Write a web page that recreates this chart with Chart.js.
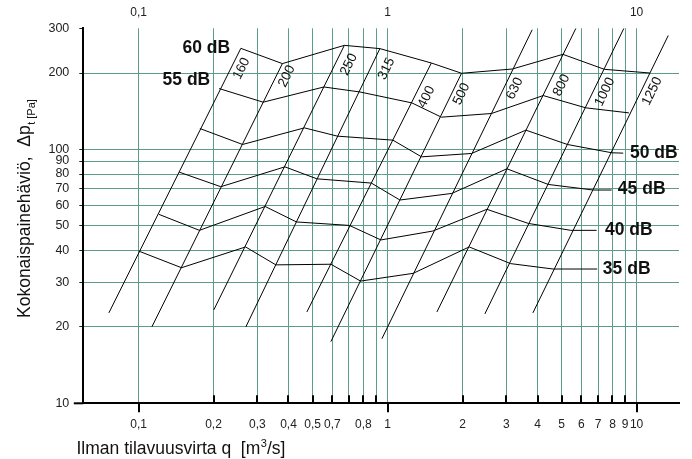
<!DOCTYPE html>
<html>
<head>
<meta charset="utf-8">
<script src="https://cdn.jsdelivr.net/npm/chart.js@4"></script>
<style>
html,body{margin:0;padding:0;background:#fff;}
#wrap{width:692px;height:459px;position:relative;}
</style>
</head>
<body>
<div id="wrap"><canvas id="c"></canvas></div>
<script>
// ---- duct size lines (start / end points) ----
const sizeLabels = ['160','200','250','315','400','500','630','800','1000','1250'];
const ductQStart = [0.0760,0.1131,0.2006,0.2697,0.4742,0.592,0.9487,1.578,2.459,3.833];
const ductPStart = [22.7,20.0,23.35,20.0,22.9,17.5,17.96,22.9,22.5,22.7];
const ductQEnd   = [0.2575,0.3781,0.6706,0.9313,1.499,1.982,3.808,5.705,8.892,13.40];
const ductPEnd   = [250.1,217.8,257.0,249.5,219.0,199.5,296,300,300,281];

// ---- sound level curves (q [m3/s], dp [Pa]) ----
const levelLabels = ['35 dB','40 dB','45 dB','50 dB','55 dB','60 dB'];
const q35 = [0.1,0.1488,0.2690,0.3559,0.592,0.7791,1.267,2.127,3.119,4.624,6.947];
const p35 = [39.8,34.2,41.3,35.1,35.3,30.3,32.5,41.3,35.5,33.8,33.8];
const q40 = [0.1207,0.1756,0.3224,0.4306,0.7024,0.9400,1.520,2.505,3.678,5.446,6.909];
const p40 = [55.5,48.0,59.6,51.8,50.2,44.0,47.7,58.1,51.1,48.0,48.0];
const q45 = [0.1456,0.2140,0.3869,0.5201,0.8607,1.1205,1.812,3.014,4.416,6.694,7.937];
const p45 = [81.4,71.3,85.4,76.6,73.7,63.2,67.1,83.9,72.8,69.2,69.2];
const q50 = [0.1763,0.2616,0.4634,0.6286,1.050,1.369,2.174,3.593,5.273,7.959,8.836];
const p50 = [120.9,104.6,121.6,112.8,108.8,93.5,96.4,119.1,104.6,97.0,96.7];
const q55 = [0.2107,0.3165,0.5549,0.7740,1.252,1.645,2.612,4.216,6.257,9.314];
const p55 = [173.7,153.5,176.2,168.4,152.5,134.0,138.5,163.0,145.8,139.3];
const q60 = [0.2575,0.3781,0.6706,0.9313,1.499,1.982,3.171,5.058,7.425,11.31];
const p60 = [250.1,217.8,257.0,249.5,219.0,199.5,207.4,236.9,206.8,200.0];

// ---- axis ticks ----
const xTickValues = [0.1,0.2,0.3,0.4,0.5,0.6,0.7,0.8,0.9,1,2,3,4,5,6,7,8,9,10];
const xTickLabels = ['0,1','0,2','0,3','0,4','0,5','0,7','','0,8','','1','2','3','4','5','6','7','8','9','10'];
const xMajorValues = [0.1,1,10];
const xTopLabels = ['0,1','1','10'];
const yTickValues = [10,20,30,40,50,60,70,80,90,100,200,300];
const yTickLabels = ['10','20','30','40','50','60','70','80','90','100','200','300'];

// ---- layout / style (not data) ----
const FONT = '"Liberation Sans", Arial, Helvetica, sans-serif';
const GRID = '#5b9c8a';
const LINE = '#000';
const sizeLabelAt = [[0.2593,208.2],[0.394,194.1],[0.6995,215.9],[0.991,207.8],[1.434,160.9],
                     [1.982,165.4],[3.245,173.7],[4.998,178.9],[7.46,168.4],[11.55,169.5]];
const levelLabelAt = [[7.32,33.8],[7.46,48.2],[8.41,69.5],[9.40,96.7],[0.1249,188.1],[0.1502,249.7]];

const levelQ = [q35,q40,q45,q50,q55,q60];
const levelP = [p35,p40,p45,p50,p55,p60];

const datasets = [];
sizeLabels.forEach((s,i) => {
  datasets.push({
    label: 'Ø ' + s,
    data: [{x: ductQStart[i], y: ductPStart[i]}, {x: ductQEnd[i], y: ductPEnd[i]}],
    showLine: true, borderColor: LINE, borderWidth: 1, pointRadius: 0, fill: false
  });
});
levelLabels.forEach((s,i) => {
  datasets.push({
    label: s,
    data: levelQ[i].map((q,j) => ({x: q, y: levelP[i][j]})),
    showLine: true, borderColor: LINE, borderWidth: 1, pointRadius: 0, fill: false,
    borderJoinStyle: 'miter'
  });
});

const decor = {
  id: 'decor',
  afterDatasetsDraw(chart) {
    const {ctx, chartArea: a} = chart;
    const x = chart.scales.x, y = chart.scales.y;
    ctx.save();
    // bottom axis extension to the left
    ctx.strokeStyle = '#000'; ctx.lineWidth = 2;
    ctx.beginPath(); ctx.moveTo(a.left - 9.5, a.bottom); ctx.lineTo(a.left, a.bottom); ctx.stroke();
    // x tick marks: majors outward, minors inward
    xTickValues.forEach(v => {
      const px = Math.round(x.getPixelForValue(v));
      ctx.beginPath();
      if (xMajorValues.includes(v)) { ctx.moveTo(px, a.bottom); ctx.lineTo(px, a.bottom + 9); }
      else { ctx.moveTo(px, a.bottom - 8); ctx.lineTo(px, a.bottom); }
      ctx.stroke();
    });
    // duct size labels, rotated along their lines
    ctx.fillStyle = '#111';
    ctx.font = '13.5px ' + FONT;
    ctx.textAlign = 'center'; ctx.textBaseline = 'middle';
    sizeLabels.forEach((s,i) => {
      const x0 = x.getPixelForValue(ductQStart[i]), y0 = y.getPixelForValue(ductPStart[i]);
      const x1 = x.getPixelForValue(ductQEnd[i]), y1 = y.getPixelForValue(ductPEnd[i]);
      const ang = Math.atan2(y1 - y0, x1 - x0);
      ctx.save();
      ctx.translate(x.getPixelForValue(sizeLabelAt[i][0]), y.getPixelForValue(sizeLabelAt[i][1]));
      ctx.rotate(ang);
      ctx.fillText(s, 0, 0);
      ctx.restore();
    });
    // level labels
    ctx.font = 'bold 17.5px ' + FONT;
    ctx.textAlign = 'left'; ctx.textBaseline = 'middle';
    levelLabels.forEach((s,i) => {
      ctx.fillText(s, x.getPixelForValue(levelLabelAt[i][0]), y.getPixelForValue(levelLabelAt[i][1]));
    });
    // x title
    ctx.fillStyle = '#111';
    ctx.textBaseline = 'alphabetic';
    let tx = 76.5, ty = 454;
    ctx.font = '17.5px ' + FONT;
    let t1 = 'Ilman tilavuusvirta q  [m';
    ctx.fillText(t1, tx, ty); tx += ctx.measureText(t1).width;
    ctx.font = '11px ' + FONT;
    ctx.fillText('3', tx + 0.5, ty - 7); tx += ctx.measureText('3').width + 0.5;
    ctx.font = '17.5px ' + FONT;
    ctx.fillText('/s]', tx, ty);
    // y title (rotated)
    ctx.save();
    ctx.translate(29.5, 318);
    ctx.rotate(-Math.PI / 2);
    ctx.font = '17.5px ' + FONT;
    let s1 = 'Kokonaispainehäviö,  \u0394p';
    ctx.fillText(s1, 0, 0);
    let w1 = ctx.measureText(s1).width;
    ctx.font = '11px ' + FONT;
    ctx.fillText('t [Pa]', w1 + 0.5, 5);
    ctx.restore();
    ctx.restore();
  }
};

new Chart(document.getElementById('c'), {
  type: 'scatter',
  data: { datasets },
  options: {
    responsive: true,
    maintainAspectRatio: false,
    animation: false,
    devicePixelRatio: 1,
    layout: { padding: { left: 0, right: 13, top: 0, bottom: 0 } },
    plugins: { legend: { display: false }, tooltip: { enabled: false }, title: { display: false } },
    scales: {
      x: {
        type: 'logarithmic', position: 'bottom', min: 0.06, max: 14.8,
        afterBuildTicks: s => { s.ticks = xTickValues.map(v => ({value: v})); },
        afterFit: s => { s.height = 55.7; },
        ticks: {
          autoSkip: false, maxRotation: 0, minRotation: 0, padding: 14.5,
          color: '#222', font: { family: FONT, size: 12 },
          callback: (v) => { const k = xTickValues.indexOf(v); return k >= 0 ? xTickLabels[k] : ''; }
        },
        grid: { color: GRID, lineWidth: 1, drawTicks: false },
        border: { display: true, color: '#000', width: 2 }
      },
      xTop: {
        type: 'logarithmic', position: 'top', min: 0.06, max: 14.8,
        afterBuildTicks: s => { s.ticks = xMajorValues.map(v => ({value: v})); },
        afterFit: s => { s.height = 28.3; },
        ticks: {
          autoSkip: false, maxRotation: 0, minRotation: 0, padding: 8.6,
          color: '#222', font: { family: FONT, size: 12 },
          callback: (v) => { const k = xMajorValues.indexOf(v); return k >= 0 ? xTopLabels[k] : ''; }
        },
        grid: { display: false, drawTicks: false },
        border: { display: false }
      },
      y: {
        type: 'logarithmic', position: 'left', min: 10, max: 300,
        afterBuildTicks: s => { s.ticks = yTickValues.map(v => ({value: v})); },
        afterFit: s => { s.width = 83.3; },
        ticks: {
          autoSkip: false, padding: 10,
          color: '#222', font: { family: FONT, size: 12.5 },
          callback: (v) => { const k = yTickValues.indexOf(v); return k >= 0 ? yTickLabels[k] : ''; }
        },
        grid: {
          color: c => (c.tick && (c.tick.value === 10 || c.tick.value === 300)) ? 'rgba(0,0,0,0)' : GRID,
          tickColor: '#222', tickLength: 4, lineWidth: 1, drawTicks: true
        },
        border: { display: true, color: '#000', width: 2 }
      }
    }
  },
  plugins: [decor]
});
</script>
</body>
</html>
